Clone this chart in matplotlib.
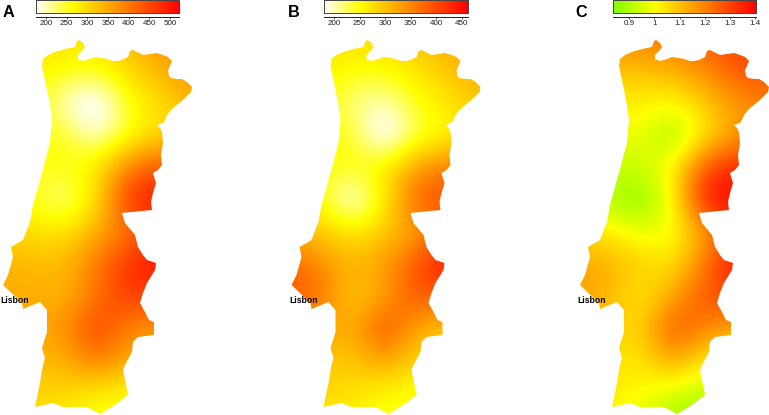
import numpy as np
import matplotlib
matplotlib.use('Agg')
import matplotlib.pyplot as plt
from matplotlib.colors import LinearSegmentedColormap
from matplotlib.patches import Polygon

plt.rcParams['font.family'] = ['Liberation Sans', 'DejaVu Sans']

W, H = 769, 415

# outline of the country in map units, clockwise from the northern tip
outline_x = [79, 83, 85, 82, 78, 78, 83, 90, 95, 102, 107, 113, 117, 122, 128, 130, 133, 137, 143, 150, 157, 163,
             168, 172, 170, 168, 169, 171, 177, 182, 187, 192, 191, 188, 183, 178, 172, 167, 165, 163, 157, 160,
             162, 163, 161, 162, 158, 153, 156, 153, 151, 152, 122, 125, 130, 135, 138, 143, 147, 156, 155, 147,
             143, 140, 145, 149, 154, 154, 138, 133, 132, 125, 123, 128, 115, 100, 87, 75, 63, 53, 35, 40, 43, 45,
             42, 47, 47, 40, 23, 22, 3, 8, 13, 11, 23, 30, 33, 42, 50, 52, 50, 47, 42, 43, 48, 55, 65, 75, 77]
outline_y = [40, 43, 47, 51, 55, 59, 61, 59, 57, 58, 59, 61, 61, 60, 57, 51, 50, 52, 55, 54, 53, 55,
             57, 61, 66, 70, 76, 78, 79, 79, 82, 87, 92, 95, 100, 104, 109, 115, 120, 123, 125, 128,
             132, 143, 155, 165, 170, 173, 183, 193, 202, 210, 213, 223, 229, 235, 247, 255, 260, 263, 270, 283,
             293, 303, 312, 320, 322, 335, 337, 342, 352, 365, 370, 395, 405, 414, 407, 407, 407, 403, 407, 383, 365, 358,
             348, 332, 310, 302, 309, 303, 285, 275, 257, 247, 240, 222, 205, 173, 143, 120, 105, 90, 66, 59, 55, 52, 49, 47, 41]

# values, on a regular grid of map positions
grid_x = [0, 32, 64, 96, 128, 160, 192]
grid_y = [40, 72, 104, 136, 168, 200, 232, 264, 296, 328, 360, 392, 424]

values_a = [[300, 295, 290, 290, 330, 370, 380],
            [280, 275, 262, 255, 300, 340, 370],
            [265, 262, 195, 140, 255, 295, 340],
            [265, 262, 258, 185, 255, 300, 310],
            [265, 262, 258, 285, 395, 440, 440],
            [262, 255, 205, 285, 480, 500, 480],
            [300, 295, 285, 340, 400, 450, 450],
            [340, 335, 330, 405, 470, 520, 525],
            [345, 345, 335, 400, 470, 450, 420],
            [350, 360, 370, 465, 385, 370, 350],
            [330, 330, 340, 405, 350, 330, 320],
            [310, 310, 305, 280, 265, 270, 280],
            [290, 290, 270, 250, 255, 260, 270]]

values_b = [[285, 280, 275, 280, 300, 320, 320],
            [262, 258, 250, 250, 270, 300, 320],
            [255, 250, 215, 195, 248, 270, 300],
            [250, 250, 245, 150, 232, 250, 280],
            [255, 250, 250, 265, 335, 360, 370],
            [255, 250, 165, 265, 385, 400, 400],
            [300, 295, 265, 290, 330, 370, 370],
            [385, 345, 310, 335, 390, 465, 465],
            [390, 370, 285, 325, 400, 370, 340],
            [330, 330, 315, 405, 320, 300, 290],
            [300, 300, 295, 335, 285, 270, 260],
            [285, 285, 275, 255, 245, 245, 250],
            [270, 270, 255, 240, 240, 245, 250]]

values_c = [[1.20, 1.20, 1.20, 1.22, 1.25, 1.30, 1.30],
            [1.10, 1.09, 1.09, 1.12, 1.18, 1.27, 1.28],
            [1.02, 1.02, 1.03, 1.00, 1.08, 1.16, 1.20],
            [0.96, 0.97, 0.98, 0.87, 1.03, 1.16, 1.20],
            [0.92, 0.92, 0.94, 1.01, 1.28, 1.35, 1.35],
            [0.93, 0.90, 0.84, 1.00, 1.38, 1.40, 1.38],
            [1.05, 1.03, 0.97, 0.98, 1.15, 1.30, 1.30],
            [1.15, 1.12, 1.08, 1.03, 1.22, 1.38, 1.38],
            [1.15, 1.12, 1.02, 1.14, 1.27, 1.30, 1.30],
            [1.10, 1.08, 1.06, 1.28, 1.20, 1.15, 1.12],
            [1.05, 1.05, 1.03, 1.16, 1.03, 0.98, 0.96],
            [1.05, 1.03, 1.00, 0.95, 0.92, 0.92, 0.92],
            [1.03, 1.00, 0.97, 0.87, 0.87, 0.90, 0.90]]

ticks_a = [200, 250, 300, 350, 400, 450, 500]
ticks_b = [200, 250, 300, 350, 400, 450]
ticks_c = [0.9, 1.0, 1.1, 1.2, 1.3, 1.4]
tick_labels_c = ['0.9', '1', '1.1', '1.2', '1.3', '1.4']

heat = LinearSegmentedColormap.from_list('heat', [(0, '#ffffff'), (0.25, '#ffff00'), (1, '#ff0000')])
green = LinearSegmentedColormap.from_list('green', [(0, '#80ff00'), (0.29, '#ffff00'), (1, '#ff0000')])

panels = [
    ('A', 0, values_a, heat, 176, 522, ticks_a, [str(t) for t in ticks_a], 36.0, 2.5),
    ('B', 288.5, values_b, heat, 180.4, 461.8, ticks_b, [str(t) for t in ticks_b], 324.3, 288.3),
    ('C', 577, values_c, green, 0.835, 1.403, ticks_c, tick_labels_c, 612.7, 575.7),
]


def px_axes(fig, left, top, width, height):
    return fig.add_axes([left / W, 1 - (top + height) / H, width / W, height / H])


fig = plt.figure(figsize=(W / 100, H / 100), dpi=100)

for letter, shift, values, cmap, vmin, vmax, ticks, labels, bar_left, letter_x in panels:
    # map
    ax = px_axes(fig, shift, 0, 200, H)
    ax.axis('off')
    half = (grid_x[1] - grid_x[0]) / 2
    im = ax.imshow(values, cmap=cmap, vmin=vmin, vmax=vmax, interpolation='bicubic', aspect='auto',
                   extent=[grid_x[0] - half, grid_x[-1] + half, grid_y[-1] + half, grid_y[0] - half])
    ax.set_xlim(0, 200)
    ax.set_ylim(H, 0)
    shape = Polygon(np.column_stack([outline_x, outline_y]), closed=True, transform=ax.transData,
                    facecolor='none', edgecolor='none')
    ax.add_patch(shape)
    im.set_clip_path(shape)
    ax.text(0.5, 300, 'Lisbon', fontsize=6.2, fontweight='bold', va='center', ha='left', color='black')

    # colour bar
    cax = px_axes(fig, bar_left, 0.5, 143.3, 13)
    cax.imshow(np.linspace(vmin, vmax, 256)[None, :], cmap=cmap, vmin=vmin, vmax=vmax, aspect='auto',
               extent=[vmin, vmax, 0, 1])
    cax.set_xticks([])
    cax.set_yticks([])
    for s in cax.spines.values():
        s.set_linewidth(0.7)
        s.set_color('#444444')

    tax = px_axes(fig, bar_left, 17, 143.3, 0.01)
    tax.set_xlim(vmin, vmax)
    tax.set_yticks([])
    for name in ['left', 'right', 'top']:
        tax.spines[name].set_visible(False)
    tax.spines['bottom'].set_linewidth(0.6)
    tax.set_xticks(ticks)
    tax.set_xticklabels(labels)
    tax.tick_params(axis='x', length=1.5, width=0.5, labelsize=5.8, pad=0.6, colors='#222222')

    fig.text(letter_x / W, 1 - 16.7 / H, letter, fontsize=11.7, fontweight='bold', ha='left', va='baseline')

fig.savefig('out.png', dpi=100)
